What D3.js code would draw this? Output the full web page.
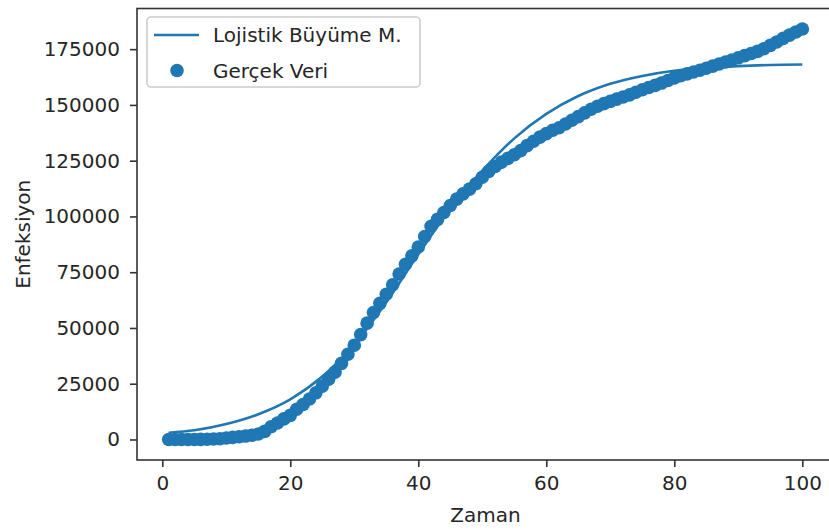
<!DOCTYPE html>
<html>
<head>
<meta charset="utf-8">
<script src="https://cdn.jsdelivr.net/npm/d3@7"></script>
<style>
  html, body { margin: 0; padding: 0; background: #fff; }
  svg { display: block; font-family: "DejaVu Sans", sans-serif; }
</style>
</head>
<body>
<svg id="chart" width="829" height="531"></svg>
<script>
// ---- data ----
const days = [1,2,3,4,5,6,7,8,9,10,11,12,13,14,15,16,17,18,19,20,21,22,23,24,25,26,27,28,29,30,
  31,32,33,34,35,36,37,38,39,40,41,42,43,44,45,46,47,48,49,50,51,52,53,54,55,56,57,58,59,60,
  61,62,63,64,65,66,67,68,69,70,71,72,73,74,75,76,77,78,79,80,81,82,83,84,85,86,87,88,89,90,
  91,92,93,94,95,96,97,98,99,100];
const actualCases = [1,1,5,6,18,47,98,191,359,670,947,1236,1529,1872,2433,3629,5698,7402,9217,10827,
  13531,15679,18135,20921,23934,27069,30217,34109,38226,42282,47029,52167,56956,61049,65111,69392,74193,78546,82329,86306,
  90980,95591,98674,101790,104912,107773,110130,112261,114653,117589,120204,122392,124375,126045,127659,129491,131744,133721,135569,137115,
  138657,139771,141475,143114,144749,146457,148067,149435,150593,151615,152587,153548,154500,155686,156827,157814,158762,159797,160979,162120,
  163103,163942,164769,165555,166422,167410,168340,169218,170132,171121,172114,173036,174023,175218,176677,178239,179831,181298,182727,184031];
const fitTimes = [1,5,10,15,20,25,30,35,40,45,50,55,60,65,70,75,80,85,90,95,100];
const fitValues = [3000,4100,6900,11300,18000,28200,42500,61500,83000,103500,120500,135000,146000,154000,159500,163000,165300,166600,167400,167900,168100];
const xTicks = [0,20,40,60,80,100];
const yTicks = [0,25000,50000,75000,100000,125000,150000,175000];
const seriesNames = ["Lojistik Büyüme M.", "Gerçek Veri"];
const axisTitles = { x: "Zaman", y: "Enfeksiyon" };

// ---- layout ----
const color = "#1f77b4";
const textColor = "#262626";
const pLeft = 137, pRight = 834, pTop = 8.5, pBottom = 460;
const svg = d3.select("#chart");

const x = d3.scaleLinear().domain([-3.95, 104.95]).range([pLeft, pRight]);
const allY = actualCases.concat(fitValues);
const yMin = d3.min(allY), yMax = d3.max(allY);
const pad = (yMax - yMin) * 0.05;
const y = d3.scaleLinear().domain([yMin - pad, yMax + pad]).range([pBottom, pTop]);

svg.append("defs").append("clipPath").attr("id", "plotclip")
  .append("rect").attr("x", pLeft).attr("y", pTop).attr("width", pRight - pLeft).attr("height", pBottom - pTop);

const plot = svg.append("g").attr("clip-path", "url(#plotclip)");

// scatter
plot.append("g").selectAll("circle")
  .data(days.map((d, i) => [d, actualCases[i]]))
  .join("circle")
  .attr("cx", d => x(d[0]))
  .attr("cy", d => y(d[1]))
  .attr("r", 6.8)
  .attr("fill", color);

// logistic fit line
const line = d3.line().x(d => x(d[0])).y(d => y(d[1])).curve(d3.curveMonotoneX);
plot.append("path")
  .datum(fitTimes.map((t, i) => [t, fitValues[i]]))
  .attr("d", line)
  .attr("fill", "none")
  .attr("stroke", color)
  .attr("stroke-width", 2.6);

// axes
const xAxis = d3.axisBottom(x).tickValues(xTicks).tickSize(7).tickPadding(9).tickFormat(d3.format("d"));
const yAxis = d3.axisLeft(y).tickValues(yTicks).tickSize(7).tickPadding(10).tickFormat(d3.format("d"));

const gx = svg.append("g").attr("transform", `translate(0,${pBottom})`).call(xAxis);
const gy = svg.append("g").attr("transform", `translate(${pLeft},0)`).call(yAxis);
[gx, gy].forEach(g => {
  g.select(".domain").remove();
  g.selectAll(".tick line").attr("stroke", "#333").attr("stroke-width", 1.6);
  g.selectAll(".tick text").attr("fill", textColor).style("font-size", "20px").style("font-family", "DejaVu Sans");
});

// spines
svg.append("rect")
  .attr("x", pLeft).attr("y", pTop).attr("width", pRight - pLeft).attr("height", pBottom - pTop)
  .attr("fill", "none").attr("stroke", "#333").attr("stroke-width", 1.6);

// axis titles
svg.append("text")
  .attr("x", (pLeft + pRight) / 2).attr("y", 522)
  .attr("text-anchor", "middle").attr("fill", textColor)
  .style("font-size", "20px").text(axisTitles.x);
svg.append("text")
  .attr("transform", `translate(30,${(pTop + pBottom) / 2}) rotate(-90)`)
  .attr("text-anchor", "middle").attr("fill", textColor)
  .style("font-size", "20px").text(axisTitles.y);

// legend
const lg = svg.append("g");
lg.append("rect")
  .attr("x", 147).attr("y", 17).attr("width", 273).attr("height", 70)
  .attr("rx", 4).attr("fill", "#fff").attr("fill-opacity", 0.8)
  .attr("stroke", "#ccc").attr("stroke-width", 1.6);
lg.append("line")
  .attr("x1", 154).attr("x2", 199).attr("y1", 35).attr("y2", 35)
  .attr("stroke", color).attr("stroke-width", 2.6);
lg.append("circle").attr("cx", 177).attr("cy", 70.5).attr("r", 6.8).attr("fill", color);
lg.selectAll("text.leg")
  .data(seriesNames)
  .join("text")
  .attr("class", "leg")
  .attr("x", 213)
  .attr("y", (d, i) => 42 + i * 35.5)
  .attr("fill", textColor)
  .style("font-size", "20px")
  .text(d => d);
</script>
</body>
</html>
